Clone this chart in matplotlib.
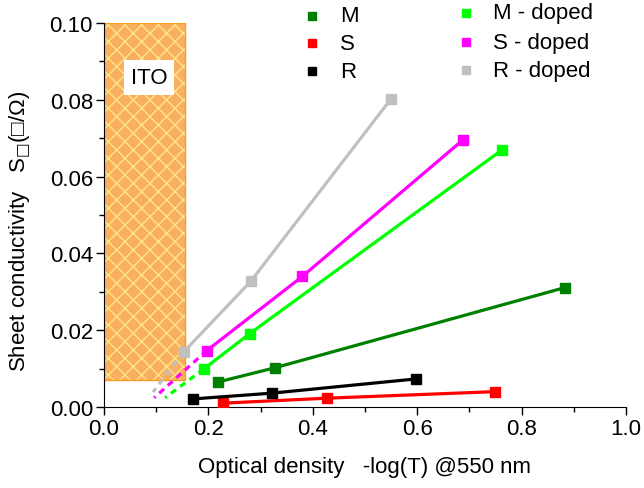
import matplotlib
matplotlib.use("Agg")
import matplotlib.pyplot as plt
from matplotlib.patches import Rectangle
from matplotlib.lines import Line2D

plt.rcParams['font.family'] = ['Liberation Sans', 'DejaVu Sans']

# optical density (x) and sheet conductivity (y) per sample
m_x = [0.218, 0.327, 0.883]
m_y = [0.0065, 0.0102, 0.0311]
s_x = [0.228, 0.428, 0.749]
s_y = [0.0010, 0.0023, 0.0040]
r_x = [0.170, 0.321, 0.597]
r_y = [0.0021, 0.0036, 0.0073]
md_x = [0.191, 0.279, 0.763]
md_y = [0.0099, 0.0191, 0.0670]
sd_x = [0.197, 0.380, 0.688]
sd_y = [0.0147, 0.0340, 0.0696]
rd_x = [0.153, 0.281, 0.549]
rd_y = [0.0144, 0.0327, 0.0801]

# dashed extrapolations of the doped series (start, end)
md_ext_x = [0.191, 0.117]
md_ext_y = [0.0099, 0.0024]
sd_ext_x = [0.197, 0.096]
sd_ext_y = [0.0147, 0.0024]
rd_ext_x = [0.153, 0.094]
rd_ext_y = [0.0144, 0.0039]

# ITO region
ito_x = [0.0, 0.155]
ito_y = [0.0071, 0.100]

labels = ['M', 'S', 'R', 'M - doped', 'S - doped', 'R - doped']
colors = ['#008000', '#ff0000', '#000000', '#00ff00', '#ff00ff', '#c0c0c0']

W, H = 644, 489
fig = plt.figure(figsize=(W / 100, H / 100), dpi=100)
ax = fig.add_axes([104 / W, 1 - 408 / H, 522 / W, 384 / H])

ax.add_patch(Rectangle((ito_x[0], ito_y[0]), ito_x[1] - ito_x[0], ito_y[1] - ito_y[0],
                       facecolor='#f8b060', edgecolor='#ffe68a', hatch='xx', linewidth=0, zorder=1))
ax.add_patch(Rectangle((ito_x[0], ito_y[0]), ito_x[1] - ito_x[0], ito_y[1] - ito_y[0],
                       facecolor='none', edgecolor='#ff9a20', linewidth=1, zorder=1.1))
ax.text(0.086, 0.0858, 'ITO', fontsize=16, ha='center', va='center',
        bbox=dict(facecolor='white', edgecolor='none', pad=5), zorder=2)

series = [(m_x, m_y), (s_x, s_y), (r_x, r_y), (md_x, md_y), (sd_x, sd_y), (rd_x, rd_y)]
for (xs, ys), c in zip(series, colors):
    ax.plot(xs, ys, color=c, lw=2.3, marker='s', ms=6.5, zorder=3)

for (xs, ys), c in zip([(md_ext_x, md_ext_y), (sd_ext_x, sd_ext_y), (rd_ext_x, rd_ext_y)], colors[3:]):
    ax.plot(xs, ys, color=c, lw=2.3, ls=(0, (2, 1.6)), zorder=2.5)

ax.set_xlim(0, 1.0)
ax.set_ylim(0, 0.10)
ax.set_xticks([0.0, 0.2, 0.4, 0.6, 0.8, 1.0])
ax.set_xticks([0.1, 0.3, 0.5, 0.7, 0.9], minor=True)
ax.set_yticks([0.0, 0.02, 0.04, 0.06, 0.08, 0.10])
ax.set_yticks([0.01, 0.03, 0.05, 0.07, 0.09], minor=True)
ax.set_xticklabels(['0.0', '0.2', '0.4', '0.6', '0.8', '1.0'])
ax.set_yticklabels(['0.00', '0.02', '0.04', '0.06', '0.08', '0.10'])
ax.tick_params(labelsize=16, direction='out', length=6, width=1, pad=2)
ax.tick_params(which='minor', direction='out', length=3.5, width=1)
ax.spines['top'].set_visible(False)
ax.spines['right'].set_visible(False)

ax.set_xlabel('Optical density   -log(T) @550 nm', fontsize=16, labelpad=12)
ax.set_ylabel('Sheet conductivity   S$_{\u25a1}$(\u25a1/\u03a9)', fontsize=16)
ax.yaxis.set_label_coords(-0.136, 0.46)

# legend, two columns placed by hand
leg_marker_x = [312, 312, 312, 466, 466, 466]
leg_text_x = [340, 340, 340, 493, 493, 493]
leg_y = [17, 44, 72, 14, 43, 71]
for lab, c, mx, tx, yy in zip(labels, colors, leg_marker_x, leg_text_x, leg_y):
    fig.add_artist(Line2D([mx / W], [1 - yy / H], color=c, marker='s', ms=6, ls='none',
                          transform=fig.transFigure))
    fig.text(tx / W, 1 - yy / H, lab, fontsize=16, ha='left', va='center')

fig.savefig('out.png', dpi=100)
